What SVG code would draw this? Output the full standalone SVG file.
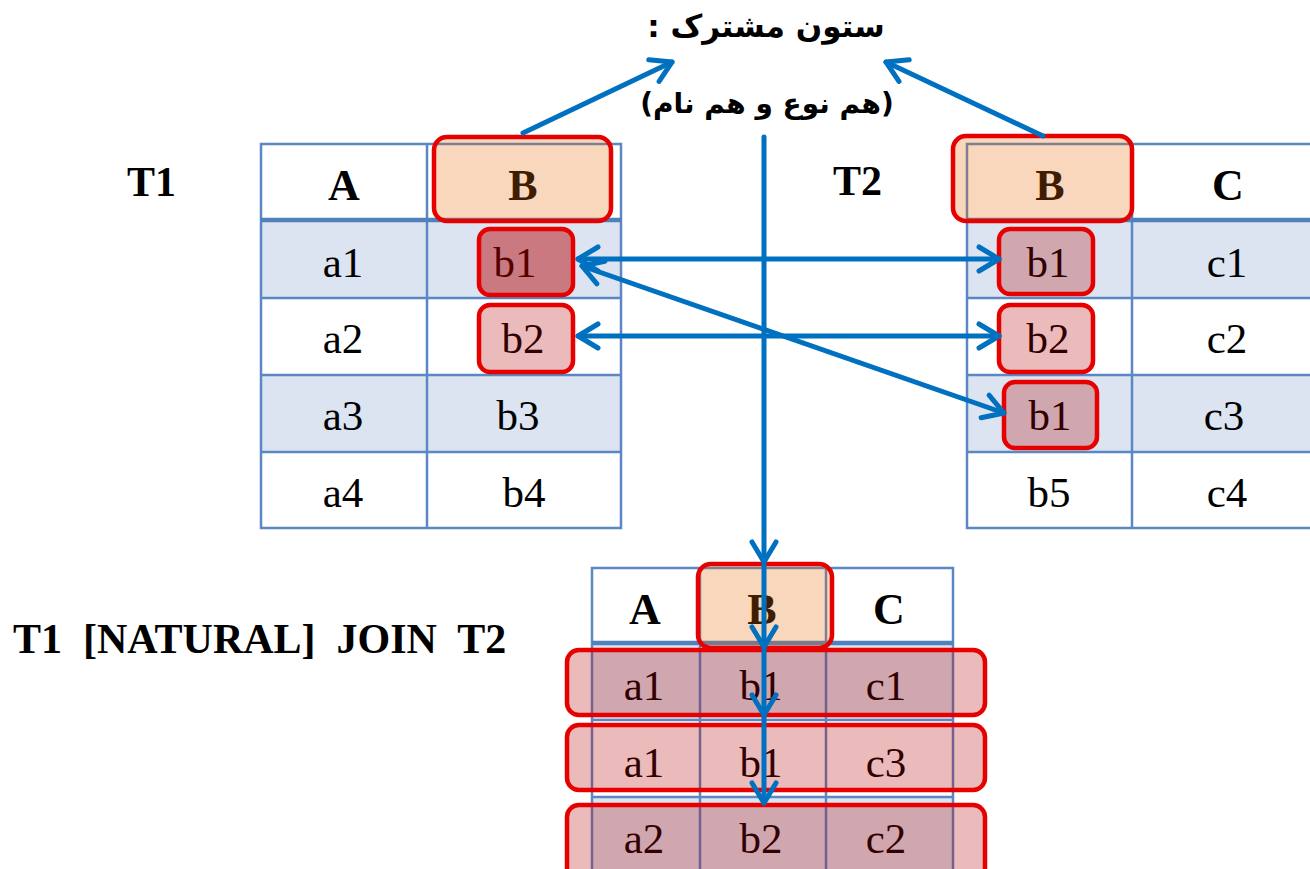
<svg xmlns="http://www.w3.org/2000/svg" width="1310" height="869" viewBox="0 0 1310 869">
<defs>
<style>
.cell{font-family:"Liberation Serif","Times New Roman",serif;font-size:43px;fill:#000;text-anchor:middle}
.hdr{font-family:"Liberation Serif","Times New Roman",serif;font-size:44px;font-weight:bold;fill:#000;text-anchor:middle}
.lbl{font-family:"Liberation Serif","Times New Roman",serif;font-size:42px;font-weight:bold;fill:#000}
.fa{font-family:"DejaVu Sans","Noto Sans",sans-serif;font-weight:bold;fill:#000;text-anchor:middle;direction:rtl}
.grid{stroke:#5B87C4;stroke-width:2.5;fill:none}
.sep{stroke:#4F81BD;stroke-width:4.5}
.blue{fill:#DBE4F0}
.hl{fill:#E46C0A;fill-opacity:0.27;stroke:#E60000;stroke-width:4.5}
.sel{fill:#B40000;fill-opacity:0.27;stroke:#E60000;stroke-width:4.5}
.sel2{fill:#B40000;fill-opacity:0.47;stroke:#E60000;stroke-width:4.5}
.con{stroke:#0070C0;stroke-width:5;fill:none;stroke-linecap:round}
</style>
<marker id="chev" markerUnits="userSpaceOnUse" viewBox="-26 -16 32 32" markerWidth="32" markerHeight="32" refX="0" refY="0" orient="auto-start-reverse" overflow="visible">
<path d="M-20,-12 L0,0 L-20,12" fill="none" stroke="#0070C0" stroke-width="5" stroke-linecap="round" stroke-linejoin="round"/>
</marker>
</defs>
<rect width="1310" height="869" fill="#fff"/>

<g id="title">
<text class="fa" x="766" y="37" font-size="31">ستون مشترک :</text>
<text class="fa" x="767" y="113" font-size="28">(هم نوع و هم نام)</text>
</g>

<g id="label-t1"><text class="lbl" x="127" y="196">T1</text></g>
<g id="label-t2"><text class="lbl" x="833" y="195">T2</text></g>
<g id="label-join"><text class="lbl" x="13" y="653" xml:space="preserve">T1  [NATURAL]  JOIN  T2</text></g>

<g id="t1">
<rect x="261" y="144" width="360" height="384" fill="#fff"/>
<rect class="blue" x="261" y="220" width="360" height="78"/>
<rect class="blue" x="261" y="375" width="360" height="77"/>
<rect class="grid" x="261" y="144" width="360" height="384"/>
<path class="grid" d="M427,144V528M261,298H621M261,375H621M261,452H621"/>
<line class="sep" x1="261" y1="220" x2="621" y2="220"/>
<text class="hdr" x="344" y="200">A</text>
<text class="hdr" x="523" y="200">B</text>
<text class="cell" x="343" y="277">a1</text>
<text class="cell" x="515" y="277">b1</text>
<text class="cell" x="343" y="353">a2</text>
<text class="cell" x="523" y="353">b2</text>
<text class="cell" x="343" y="430">a3</text>
<text class="cell" x="518" y="430">b3</text>
<text class="cell" x="343" y="507">a4</text>
<text class="cell" x="524" y="507">b4</text>
<rect class="hl" x="434" y="137" width="177" height="84" rx="13"/>
<rect class="sel2" x="479" y="229" width="94" height="66" rx="11"/>
<rect class="sel" x="479" y="305" width="94" height="67" rx="11"/>
</g>

<g id="t2">
<rect x="967" y="144" width="360" height="384" fill="#fff"/>
<rect class="blue" x="967" y="220" width="360" height="78"/>
<rect class="blue" x="967" y="375" width="360" height="77"/>
<rect class="grid" x="967" y="144" width="360" height="384"/>
<path class="grid" d="M1132,144V528M967,298H1327M967,375H1327M967,452H1327"/>
<line class="sep" x1="967" y1="220" x2="1327" y2="220"/>
<text class="hdr" x="1050" y="200">B</text>
<text class="hdr" x="1228" y="200">C</text>
<text class="cell" x="1048" y="277">b1</text>
<text class="cell" x="1227" y="277">c1</text>
<text class="cell" x="1048" y="353">b2</text>
<text class="cell" x="1227" y="353">c2</text>
<text class="cell" x="1050" y="430">b1</text>
<text class="cell" x="1224" y="430">c3</text>
<text class="cell" x="1049" y="507">b5</text>
<text class="cell" x="1227" y="507">c4</text>
<rect class="hl" x="953" y="136" width="179" height="85" rx="13"/>
<rect class="sel" x="999" y="229" width="94" height="65" rx="11"/>
<rect class="sel" x="999" y="305" width="94" height="67" rx="11"/>
<rect class="sel" x="1004" y="382" width="93" height="66" rx="11"/>
</g>

<g id="result">
<rect x="592" y="568" width="361" height="310" fill="#fff"/>
<rect class="blue" x="592" y="643" width="361" height="77"/>
<rect class="blue" x="592" y="797" width="361" height="77"/>
<rect class="grid" x="592" y="568" width="361" height="310"/>
<path class="grid" d="M700,568V878M826,568V878M592,720H953M592,797H953"/>
<line class="sep" x1="592" y1="643" x2="953" y2="643"/>
<text class="hdr" x="645" y="624">A</text>
<text class="hdr" x="762" y="624">B</text>
<text class="hdr" x="889" y="624">C</text>
<text class="cell" x="644" y="700">a1</text>
<text class="cell" x="761" y="700">b1</text>
<text class="cell" x="886" y="700">c1</text>
<text class="cell" x="644" y="777">a1</text>
<text class="cell" x="761" y="777">b1</text>
<text class="cell" x="886" y="777">c3</text>
<text class="cell" x="644" y="853">a2</text>
<text class="cell" x="761" y="853">b2</text>
<text class="cell" x="886" y="853">c2</text>
<rect class="hl" x="698" y="564" width="134" height="84" rx="13"/>
<rect class="sel" x="567" y="650" width="418" height="65" rx="12"/>
<rect class="sel" x="567" y="725" width="418" height="65" rx="12"/>
<rect class="sel" x="567" y="805" width="418" height="75" rx="12"/>
</g>

<g id="connectors">
<line class="con" x1="523" y1="133" x2="672" y2="62" marker-end="url(#chev)"/>
<line class="con" x1="1043" y1="136" x2="886" y2="62" marker-end="url(#chev)"/>
<line class="con" x1="578" y1="259" x2="999" y2="259" marker-start="url(#chev)" marker-end="url(#chev)"/>
<line class="con" x1="578" y1="336" x2="999" y2="336" marker-start="url(#chev)" marker-end="url(#chev)"/>
<line class="con" x1="582" y1="266" x2="1004" y2="413" marker-start="url(#chev)" marker-end="url(#chev)"/>
<path class="con" d="M764,137V562V647V715V803" marker-mid="url(#chev)" marker-end="url(#chev)"/>
</g>
</svg>
